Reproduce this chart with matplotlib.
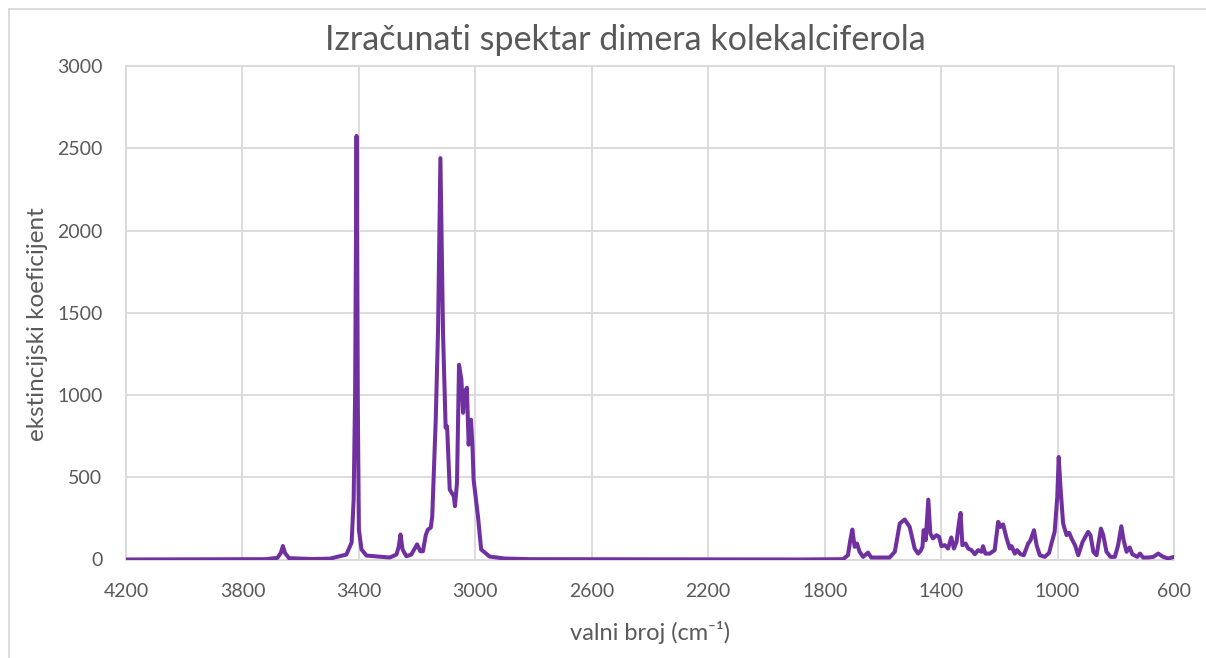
import matplotlib
matplotlib.use("Agg")
import matplotlib.pyplot as plt
from matplotlib.lines import Line2D

plt.rcParams['font.family'] = ['Lato', 'DejaVu Sans']

title = "Izračunati spektar dimera kolekalciferola"
x_label = "valni broj (cm⁻¹)"
y_label = "ekstincijski koeficijent"

x_ticks = [4200, 3800, 3400, 3000, 2600, 2200, 1800, 1400, 1000, 600]
y_ticks = [0, 500, 1000, 1500, 2000, 2500, 3000]

wavenumber = [
    4200, 3720, 3680, 3668, 3661, 3654, 3640, 3560, 3500, 3443, 3425, 3418, 3413,
    3408, 3404, 3400, 3391, 3374, 3294, 3271, 3263, 3257, 3250, 3237, 3220, 3200,
    3189, 3180, 3170, 3163, 3153, 3148, 3136, 3128, 3120, 3111, 3102, 3097, 3088,
    3074, 3070, 3063, 3056, 3048, 3042, 3037, 3029, 3023, 3015, 3010, 3006, 2991,
    2980, 2951, 2900, 2814, 1886, 1737, 1720, 1712, 1705, 1697, 1689, 1680, 1668,
    1651, 1640, 1577, 1559, 1542, 1525, 1508, 1491, 1479, 1471, 1464, 1460, 1453,
    1444, 1437, 1428, 1416, 1407, 1399, 1387, 1376, 1365, 1356, 1347, 1339, 1333,
    1327, 1316, 1307, 1296, 1284, 1273, 1261, 1256, 1248, 1233, 1216, 1204, 1196,
    1187, 1175, 1164, 1158, 1147, 1139, 1127, 1116, 1101, 1093, 1081, 1072, 1061,
    1044, 1029, 1021, 1010, 1001, 996, 990, 981, 969, 960, 952, 940, 929, 914, 895,
    887, 877, 866, 851, 843, 832, 818, 803, 792, 781, 773, 763, 752, 743, 726, 717,
    706, 688, 671, 654, 646, 637, 620, 600,
]
intensity = [
    0, 2, 10, 40, 82, 40, 8, 3, 5, 30, 103, 364, 1000,
    2575, 1000, 182, 61, 24, 12, 30, 79, 152, 61, 20, 30, 92,
    50, 50, 150, 182, 194, 263, 850, 1400, 2440, 1378, 801, 809, 425,
    385, 324, 467, 1184, 1093, 892, 1014, 1044, 698, 850, 698, 486, 263,
    61, 18, 6, 2, 0, 2, 26, 117, 182, 77, 97, 47, 16,
    42, 12, 12, 47, 219, 243, 198, 67, 36, 51, 77, 178, 117,
    364, 158, 128, 148, 138, 81, 87, 67, 134, 67, 107, 219, 283,
    87, 97, 67, 57, 32, 57, 47, 81, 36, 36, 57, 229, 198,
    213, 128, 67, 81, 36, 57, 32, 26, 97, 117, 178, 87, 26,
    16, 40, 97, 168, 380, 623, 441, 219, 148, 162, 128, 87, 26, 107, 168,
    148, 47, 26, 188, 148, 47, 16, 16, 87, 202, 117, 47, 73, 32, 16, 36,
    12, 12, 16, 36, 26, 16, 6, 16,
]

W, H = 1206, 658
fig = plt.figure(figsize=(W / 100, H / 100), dpi=100)
ax = fig.add_axes([126 / W, 1 - 559.5 / H, (1174 - 126) / W, (559.5 - 66) / H])

text_c = "#595959"
grid_c = "#D9D9D9"

ax.plot(wavenumber, intensity, color="#7030A0", lw=2.9, solid_joinstyle="round",
        solid_capstyle="round", zorder=3)
ax.set_xlim(4200, 600)
ax.set_ylim(0, 3000)
ax.set_xticks(x_ticks)
ax.set_yticks(y_ticks)
ax.grid(True, color=grid_c, lw=1.3)
ax.set_axisbelow(True)
for s in ax.spines.values():
    s.set_color(grid_c)
    s.set_linewidth(1.3)
ax.tick_params(length=0, labelsize=14, colors=text_c)
ax.tick_params(axis='y', pad=17)
ax.tick_params(axis='x', pad=17)

fig.text(650 / W, 1 - 632 / H, x_label, ha="center", va="center", fontsize=17, color=text_c)
fig.text(38 / W, 1 - 324 / H, y_label, ha="center", va="center", rotation=90,
         fontsize=17.5, color=text_c)
fig.text(625 / W, 1 - 40 / H, title, ha="center", va="center", fontsize=24.5, color=text_c)

# chart area border (partially outside the image)
fig.add_artist(Line2D([8.5 / W, 8.5 / W], [0, 1 - 9 / H], transform=fig.transFigure,
                      color=grid_c, lw=1.3))
fig.add_artist(Line2D([8.5 / W, 1], [1 - 9 / H, 1 - 9 / H], transform=fig.transFigure,
                      color=grid_c, lw=1.3))

fig.savefig("out.png", dpi=100)
